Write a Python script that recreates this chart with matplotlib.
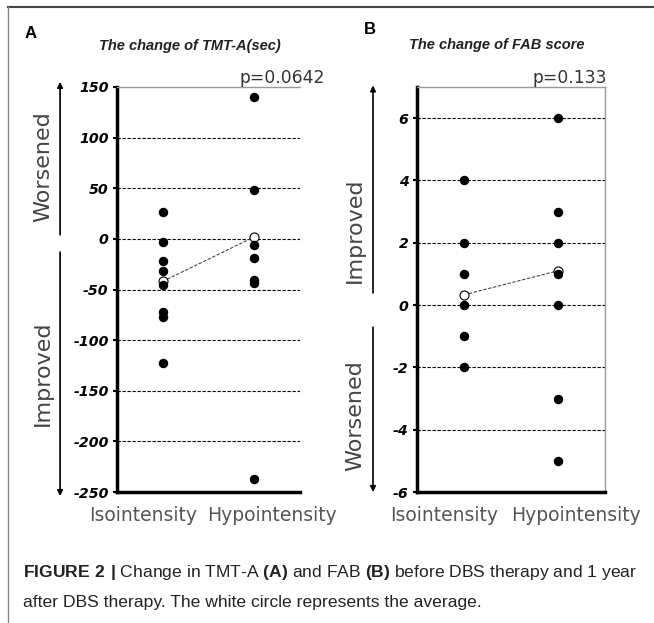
import matplotlib
matplotlib.use("Agg")
import matplotlib.pyplot as plt
from matplotlib.lines import Line2D
from matplotlib.transforms import ScaledTranslation, blended_transform_factory

# Values
groups = ["Isointensity", "Hypointensity"]

tmt_iso = [27, -3, -22, -32, -46, -72, -77, -123]
tmt_hypo = [140, 48, -6, -19, -41, -44, -237]
tmt_mean = [-42, 2]
tmt_ticks = [150, 100, 50, 0, -50, -100, -150, -200, -250]

fab_iso = [4, 2, 1, 0, -1, -2]
fab_hypo = [6, 3, 2, 1, 0, -3, -5]
fab_mean = [0.33, 1.1]
fab_ticks = [6, 4, 2, 0, -2, -4, -6]

plt.rcParams["mathtext.fontset"] = "custom"
plt.rcParams["mathtext.rm"] = "Liberation Sans"
plt.rcParams["mathtext.bf"] = "Liberation Sans:bold"

W, H = 654, 623
fig = plt.figure(figsize=(W / 100, H / 100), dpi=100)


def px_box(left, top, right, bottom):
    return [left / W, 1 - bottom / H, (right - left) / W, (bottom - top) / H]


def draw_panel(ax, iso, hypo, mean, ticks, ylim, grid, right_spine):
    ax.set_xlim(-0.5, 1.5)
    ax.set_ylim(*ylim)
    for t in grid:
        ax.axhline(t, color="black", lw=0.8, ls=(0, (3, 1.5)), zorder=1)
    ax.plot([0, 1], mean, color="#444", lw=0.8, ls=(0, (3, 1.5)), zorder=2)
    ax.plot([0, 1], mean, "o", ms=6.5, mfc="white", mec="black", mew=0.8, ls="none", zorder=3)
    ax.plot([0] * len(iso), iso, "o", ms=5.8, color="black", ls="none", zorder=4)
    ax.plot([1] * len(hypo), hypo, "o", ms=5.8, color="black", ls="none", zorder=4)

    ax.spines["left"].set_linewidth(2.5)
    ax.spines["bottom"].set_linewidth(2.5)
    ax.spines["top"].set_color("#999")
    ax.spines["top"].set_linewidth(1)
    ax.spines["right"].set_visible(right_spine)
    ax.spines["right"].set_color("#999")
    ax.spines["right"].set_linewidth(1)

    ax.set_yticks(ticks)
    ax.set_yticklabels([str(t) for t in ticks], fontsize=10.2, fontweight="bold", style="italic")
    ax.tick_params(axis="y", length=3, width=1.5, pad=3)
    ax.set_xticks([0, 1])
    ax.set_xticklabels(groups, fontsize=13.5, color="#555")
    ax.tick_params(axis="x", length=0, pad=10)
    shifts = [-20, 18]
    for lab, dx in zip(ax.get_xticklabels(), shifts):
        lab.set_transform(lab.get_transform() + ScaledTranslation(dx / 100, 0, fig.dpi_scale_trans))


def side_labels(ax, x_arrow, x_text, up, down):
    # up / down: (arrow start, arrow tip, text centre, text)
    tr = blended_transform_factory(ax.transAxes, ax.transData)
    for start, tip, yc, txt in (up, down):
        ax.annotate("", xy=(x_arrow, tip), xytext=(x_arrow, start), xycoords=tr,
                    textcoords=tr, annotation_clip=False,
                    arrowprops=dict(arrowstyle="-|>", color="black", lw=1.2,
                                    mutation_scale=8, shrinkA=0, shrinkB=0))
        ax.text(x_text, yc, txt, transform=tr, rotation=90, ha="center", va="center",
                fontsize=16, color="#444")


axA = fig.add_axes(px_box(117, 87, 300, 492))
draw_panel(axA, tmt_iso, tmt_hypo, tmt_mean, tmt_ticks, (-250, 150),
           tmt_ticks[1:-1], right_spine=False)
side_labels(axA, -0.311, -0.404, (4, 155, 71, "Worsened"), (-13, -254, -133, "Improved"))
axA.text(1.137, 1.01, "p=0.0642", transform=axA.transAxes, ha="right", va="baseline",
         fontsize=12.3, color="#333")

axB = fig.add_axes(px_box(417, 87, 605, 492))
draw_panel(axB, fab_iso, fab_hypo, fab_mean, fab_ticks, (-6, 7),
           fab_ticks[:-1], right_spine=True)
side_labels(axB, -0.234, -0.33, (0.39, 7.05, 2.4, "Improved"), (-0.71, -6.0, -3.54, "Worsened"))
axB.text(1.011, 1.011, "p=0.133", transform=axB.transAxes, ha="right", va="baseline",
         fontsize=12.3, color="#333")

# titles and panel letters
title_kw = dict(fontsize=10.5, fontweight="bold", style="italic", family="Liberation Sans",
                ha="center", va="center", color="#222")
fig.text(190 / W, 1 - 46 / H, "The change of TMT-A(sec)", **title_kw)
fig.text(497 / W, 1 - 45 / H, "The change of FAB score", **title_kw)
fig.text(31 / W, 1 - 33 / H, "A", fontsize=12, fontweight="bold", family="Liberation Sans",
         ha="center", va="center")
fig.text(370 / W, 1 - 30 / H, "B", fontsize=12, fontweight="bold", family="Liberation Sans",
         ha="center", va="center")

# caption
cap_kw = dict(fontsize=12.6, family="Liberation Sans", ha="left", va="center", color="#222")
fig.text(23 / W, 1 - 573 / H,
         r"$\mathbf{FIGURE\ 2\ |}$ Change in TMT-A $\mathbf{(A)}$ and FAB $\mathbf{(B)}$ "
         "before DBS therapy and 1 year", **cap_kw)
fig.text(23 / W, 1 - 603 / H,
         "after DBS therapy. The white circle represents the average.", **cap_kw)

# frame around the figure
fig.add_artist(Line2D([8 / W, 1], [1 - 7 / H] * 2, transform=fig.transFigure, color="#444", lw=1.5))
fig.add_artist(Line2D([8 / W] * 2, [0, 1 - 7 / H], transform=fig.transFigure, color="#888", lw=1))

fig.savefig("out.png", dpi=100)
